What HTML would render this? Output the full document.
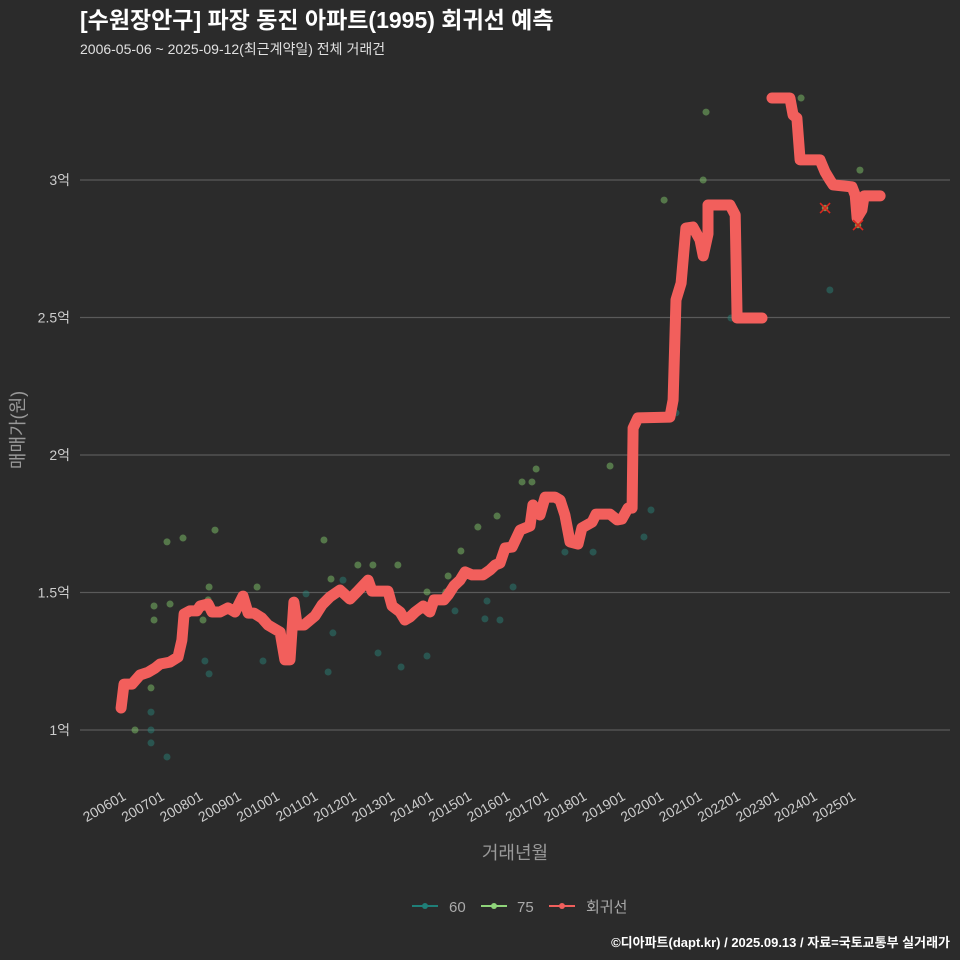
<!DOCTYPE html>
<html><head><meta charset="utf-8">
<style>
body{margin:0;background:#2b2b2b;}
svg{display:block;font-family:"Liberation Sans","Noto Sans CJK KR",sans-serif;}
</style></head>
<body>
<svg id="chart" width="960" height="960" viewBox="0 0 960 960">
<rect width="960" height="960" fill="#2b2b2b"/>
<text x="80" y="28" fill="#ffffff" font-size="23" font-weight="bold">[수원장안구] 파장 동진 아파트(1995) 회귀선 예측</text>
<text x="80" y="54" fill="#e0e0e0" font-size="14">2006-05-06 ~ 2025-09-12(최근계약일) 전체 거래건</text>
<g id="grid"></g>
<g id="xaxis"></g>
<g id="points"></g>
<g id="line"></g>
<text x="515" y="859" fill="#999" font-size="18" text-anchor="middle">거래년월</text>
<text transform="translate(24,430) rotate(-90)" fill="#999" font-size="18" text-anchor="middle">매매가(원)</text>
<g>
 <g><line x1="412" y1="906" x2="438" y2="906" stroke="#1f7f78" stroke-width="2"/><circle cx="425" cy="906" r="3" fill="#1f7f78"/><text x="449" y="912" fill="#aaa" font-size="15">60</text></g>
 <g><line x1="481" y1="906" x2="507" y2="906" stroke="#8fd47a" stroke-width="2"/><circle cx="494" cy="906" r="3" fill="#8fd47a"/><text x="517" y="912" fill="#aaa" font-size="15">75</text></g>
 <g><line x1="549" y1="906" x2="575" y2="906" stroke="#f05f5c" stroke-width="2"/><circle cx="562" cy="906" r="3" fill="#f05f5c"/><text x="586" y="912" fill="#aaa" font-size="15">회귀선</text></g>
</g>
<text x="950" y="947" fill="#ffffff" font-size="13" font-weight="bold" text-anchor="end">©디아파트(dapt.kr) / 2025.09.13 / 자료=국토교통부 실거래가</text>
</svg>
<script>
const yTicks=[1,1.5,2,2.5,3];
const yTickLabels=["1억","1.5억","2억","2.5억","3억"];
const xTickLabels=["200601","200701","200801","200901","201001","201101","201201","201301","201401","201501","201601","201701","201801","201901","202001","202101","202201","202301","202401","202501"];
// regression line: months since 2006-01, value (억); null = gap
const lineMonths=[-0.6,0.3,2.8,5.3,7.8,10,11.6,14.7,17.2,18.4,19.1,20.9,23.1,24.1,26.6,27.8,30.3,32.8,35,37.5,39.1,40.9,43.4,45.3,49.1,50.6,52.2,53.4,54.4,56.6,60,62.2,64.7,67.8,70.9,73.1,76.6,77.8,80.9,82.8,84.1,86.6,88.1,89.7,91.3,93.8,95.9,97.2,100.3,101.6,103.4,105.3,106.9,109.1,112.5,114.7,116.3,117.8,119.4,121.6,124.1,127.2,128.1,130.3,131.9,135,136.6,138.1,139.7,142.2,143.4,146.6,147.8,152.2,154.4,155.9,157.8,159.1,159.4,160.9,170.9,171.9,172.8,174.4,175.9,178.1,180.3,181.3,182.8,182.8,189.7,191.3,191.9,199.7,null,202.8,208.4,209.4,210.6,211.6,217.8,219.4,220.9,221.9,227.8,228.8,229.4,230.9,231.6,236.6];
const lineValues=[1.08,1.167,1.167,1.2,1.21,1.225,1.24,1.247,1.265,1.327,1.422,1.433,1.433,1.451,1.458,1.429,1.429,1.444,1.429,1.487,1.425,1.425,1.407,1.382,1.356,1.255,1.255,1.465,1.382,1.382,1.415,1.455,1.484,1.509,1.476,1.502,1.545,1.505,1.505,1.505,1.451,1.429,1.40,1.411,1.429,1.451,1.429,1.473,1.473,1.491,1.524,1.545,1.575,1.564,1.564,1.582,1.60,1.607,1.662,1.665,1.727,1.742,1.818,1.782,1.847,1.847,1.836,1.782,1.684,1.676,1.735,1.756,1.785,1.785,1.764,1.767,1.807,1.807,2.098,2.135,2.138,2.2,2.564,2.625,2.825,2.829,2.782,2.724,2.804,2.909,2.909,2.873,2.498,2.498,null,3.298,3.298,3.236,3.225,3.073,3.073,3.029,3.0,2.982,2.975,2.945,2.862,2.891,2.942,2.942];
const s75Months=[3.75,8.75,9.7,9.7,13.75,14.7,18.75,28.75,26.6,26.9,41.9,25,62.8,65,73.4,78.1,85.9,95,101.6,105.6,110.9,116.9,124.7,127.8,129.1,152.2,169.1,181.3,182.2,211.9,230.3,100.9];
const s75Values=[1.0,1.153,1.451,1.40,1.684,1.458,1.698,1.727,1.473,1.52,1.52,1.40,1.691,1.549,1.60,1.60,1.60,1.502,1.56,1.651,1.738,1.778,1.902,1.902,1.949,1.96,2.927,3.0,3.247,3.298,3.036,1.502];
const s60Months=[8.75,8.75,8.75,13.75,25.6,26.9,43.75,57.2,64.1,65.6,68.75,79.7,86.9,95,103.75,113.1,113.75,117.8,121.9,138.1,146.9,162.8,165,172.8,190,220.9,219.4,229.7];
const s60Values=[1.065,1.0,0.953,0.902,1.251,1.204,1.251,1.495,1.211,1.353,1.545,1.28,1.229,1.269,1.433,1.404,1.469,1.40,1.52,1.647,1.647,1.702,1.80,2.153,2.498,2.60,2.898,2.836];
const outlierMonths=[219.4,229.7];
const outlierValues=[2.898,2.836];

const NS="http://www.w3.org/2000/svg";
function X(m){return 123+m*3.2;}
function Y(v){return 730-(v-1)*275;}
function mk(tag,attrs,parent){const e=document.createElementNS(NS,tag);for(const k in attrs)e.setAttribute(k,attrs[k]);parent.appendChild(e);return e;}

const grid=document.getElementById('grid');
yTicks.forEach((t,i)=>{
  const l=mk('line',{x1:80,x2:950,y1:Y(t),y2:Y(t),stroke:'#5a5a5a','stroke-width':1.2},grid);
  
  
  const tx=mk('text',{x:70,y:Y(t)+5,fill:'#ccc','font-size':14,'text-anchor':'end'},grid);
  tx.textContent=yTickLabels[i];
  
  
});
const xa=document.getElementById('xaxis');
xTickLabels.forEach((lab,i)=>{
  const x=X(i*12);
  const tx=mk('text',{transform:`translate(${x+4},${799}) rotate(-30)`,fill:'#ccc','font-size':14,'text-anchor':'end'},xa);
  tx.textContent=lab;
  
  
});
const pts=document.getElementById('points');
s60Months.forEach((m,i)=>{
  const c=mk('circle',{cx:X(m),cy:Y(s60Values[i]),r:3.5,fill:'#2a8a7e','fill-opacity':0.45},pts);
  
  
});
s75Months.forEach((m,i)=>{
  const c=mk('circle',{cx:X(m),cy:Y(s75Values[i]),r:3.5,fill:'#7fc46a','fill-opacity':0.5},pts);
  
  
});
const lg=document.getElementById('line');
let segs=[[]];
lineMonths.forEach((m,i)=>{
  if(m===null){segs.push([]);return;}
  segs[segs.length-1].push(X(m).toFixed(1)+','+Y(lineValues[i]).toFixed(1));
});
segs.forEach(s=>{
  const p=mk('polyline',{points:s.join(' '),fill:'none',stroke:'#f25f5c','stroke-width':11,'stroke-linecap':'round','stroke-linejoin':'round'},lg);
  
  
});
outlierMonths.forEach((m,i)=>{
  const x=X(m),y=Y(outlierValues[i]);
  const d=mk('circle',{cx:x,cy:y,r:3,fill:'#c8a040','fill-opacity':0.7},lg);
  
  
  const g=mk('path',{d:`M${x-5},${y-5}L${x+5},${y+5}M${x-5},${y+5}L${x+5},${y-5}`,stroke:'#d8261e','stroke-width':1.6,fill:'none'},lg);
  
  
});
</script>
</body></html>
